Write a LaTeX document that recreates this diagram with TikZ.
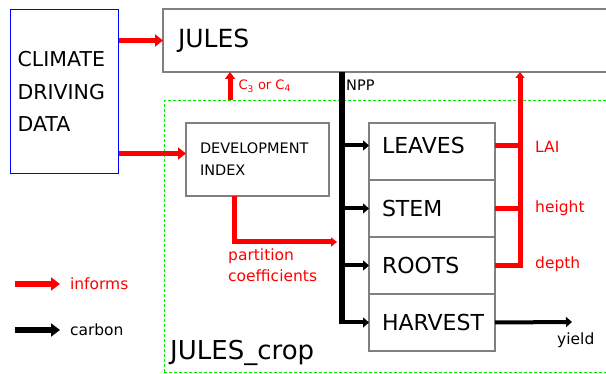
\documentclass[tikz,border=0pt]{standalone}
\usepackage{fontspec}
\setmainfont{DejaVu Sans}
\usepackage{xcolor}
\definecolor{cropgreen}{RGB}{0,235,0}
\newcommand{\FontPx}[2]{\fontsize{#1}{#2}\selectfont}
\usetikzlibrary{positioning, arrows.meta}

\begin{document}
\begin{tikzpicture}[x=1pt, y=-1pt,
    box/.style={draw=gray, line width=1.2pt, outer sep=0pt, align=left},
    part/.style={box, minimum width=126pt, minimum height=57pt, text width=100pt,
        inner xsep=13pt, font=\FontPx{22}{26}},
    informs/.style={draw=red, line width=5pt, -{Triangle[length=8pt,width=12pt]}},
    redline/.style={draw=red, line width=5pt},
    carbon/.style={draw=black, line width=4pt, -{Triangle[length=6pt,width=10pt]}},
    redlabel/.style={text=red, font=\FontPx{15.5}{21}, inner sep=0pt}]
    \useasboundingbox (0,0) rectangle (606,374);
    \clip (0,0) rectangle (606,374);

        % boxes
        \node[draw=blue, line width=1.2pt, anchor=north west, minimum width=108pt,
            minimum height=164pt, text width=94pt, inner xsep=7pt, align=left,
            font=\FontPx{20.5}{32.5}] (climate) at (10,9) {CLIMATE\\DRIVING\\DATA};
        \node[box, anchor=north west, minimum width=460pt, minimum height=63pt,
            text width=430pt, inner xsep=14pt, font=\FontPx{25}{30}] (jules) at (163,9) {JULES};
        \node[draw=cropgreen, dash pattern=on 3pt off 2pt, line width=1pt, anchor=north west,
            minimum width=460pt, minimum height=272pt] (crop) at (163.5,100.5) {};
        \node[anchor=base west, inner sep=0pt, font=\FontPx{26}{30}] (croplabel) at (170,360) {JULES\_crop};
        \node[box, anchor=north west, minimum width=143pt, minimum height=73pt,
            text width=115pt, inner xsep=14pt, font=\FontPx{14.5}{22}] (dev) at (186,123) {DEVELOPMENT\\INDEX};

        % crop parts
        \node[part, anchor=north west, text depth=12pt] (leaves) at (369,123) {LEAVES};
        \node[part, below=0pt of leaves] (stem) {STEM};
        \node[part, below=0pt of stem] (roots) {ROOTS};
        \node[part, below=0pt of roots] (harvest) {HARVEST};

        % helper coordinates
        \coordinate (devin) at ([yshift=6pt]dev.west);
        \coordinate (leavesin) at ([yshift=6pt]leaves.west);
        \coordinate (leavesout) at ([yshift=6pt]leaves.east);
        \coordinate (cphoto) at (230,100);
        \coordinate (trunk) at (342,72);
        \coordinate (canopy) at (520,72);
        \coordinate (pc) at (234,0);
        \coordinate (pcend) at (337,242);
        \coordinate (yieldend) at (572,322);

        % informs arrows
        \draw[informs] (climate.east |- jules.west) -- (jules.west);
        \draw[informs] (climate.east |- devin) -- (devin);
        \draw[informs, -{Triangle[length=7pt,width=10pt]}] (cphoto) -- (cphoto |- jules.south)
            node[redlabel, midway, right=6pt, font=\FontPx{13}{15}] (cphotolabel) {C\textsubscript{3} or C\textsubscript{4}};
        \draw[informs, -{Triangle[length=6pt,width=9pt]}] (pc |- dev.south) |- (pcend);
        \node[redlabel, anchor=north west, align=left] (pclabel) at (228,249) {partition\\coefficients};

        % carbon
        \draw[line width=5.5pt] (trunk) -- (trunk |- harvest.west);
        \node[anchor=west, inner sep=0pt, font=\FontPx{14.5}{16}] (npplabel) at (346,85) {NPP};
        \draw[carbon] (trunk |- leavesin) -- (leavesin);
        \draw[carbon] (trunk |- stem.west) -- (stem.west);
        \draw[carbon] (trunk |- roots.west) -- (roots.west);
        \draw[carbon] ([xshift=-2.75pt]trunk |- harvest.west) -- (harvest.west);
        \draw[carbon] (harvest.east) -- (yieldend);
        \node[anchor=base west, inner sep=0pt, font=\FontPx{15.5}{18}] (yieldlabel) at (557,345) {yield};

        % canopy outputs
        \draw[redline] (leavesout) -- (canopy |- leavesout);
        \draw[redline] (stem.east) -- (canopy |- stem.east);
        \draw[informs, -{Triangle[length=6pt,width=9pt]}] (roots.east) -| (canopy);
        \node[redlabel, anchor=west] (lailabel) at (535,147) {LAI};
        \node[redlabel, anchor=west] (heightlabel) at (535,208) {height};
        \node[redlabel, anchor=west] (depthlabel) at (535,264) {depth};

        % legend
        \coordinate (keyA) at (15,284);
        \coordinate (keyB) at (60,284);
        \coordinate (keyC) at (15,330);
        \coordinate (keyD) at (60,330);
        \draw[informs, line width=6pt, -{Triangle[length=9pt,width=13pt]}] (keyA) -- (keyB)
            node[redlabel, right=7pt] (informslabel) {informs};
        \draw[carbon, line width=6pt, -{Triangle[length=9pt,width=13pt]}] (keyC) -- (keyD)
            node[right=7pt, inner sep=0pt, font=\FontPx{15.5}{18}] (carbonlabel) {carbon};
\end{tikzpicture}
\end{document}
